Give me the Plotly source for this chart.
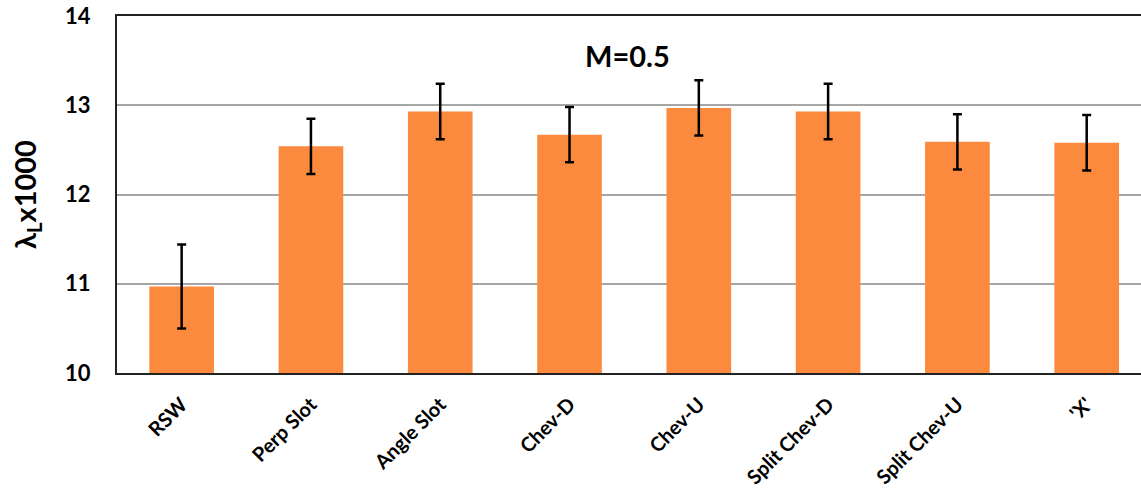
import plotly.graph_objects as go

categories = ["RSW", "Perp Slot", "Angle Slot", "Chev-D", "Chev-U",
              "Split Chev-D", "Split Chev-U", "'X'"]
values = [10.97, 12.54, 12.93, 12.67, 12.97, 12.93, 12.59, 12.58]
errors = [0.47, 0.31, 0.31, 0.31, 0.31, 0.31, 0.31, 0.31]
y_ticks = [10, 11, 12, 13, 14]

FONT = "Lato"

fig = go.Figure()
fig.add_trace(go.Bar(
    x=list(range(len(categories))),
    y=values,
    width=0.5,
    marker=dict(color="#FC8A3E", line=dict(width=0)),
    error_y=dict(type="data", array=errors, visible=True,
                 color="black", thickness=2.5, width=4.5),
    showlegend=False,
))

fig.add_annotation(text="<b>M=0.5</b>", x=0.499, y=0.89,
                   xref="paper", yref="paper", showarrow=False,
                   xanchor="center", yanchor="middle",
                   font=dict(family=FONT, size=29, color="black"))

fig.update_layout(
    width=1141, height=496,
    margin=dict(l=117, r=0, t=16, b=123),
    plot_bgcolor="white", paper_bgcolor="white",
    bargap=0.5,
    xaxis=dict(
        range=[-0.5, 7.42],
        tickmode="array",
        tickvals=list(range(len(categories))),
        ticktext=["<b>%s</b>" % c for c in categories],
        tickangle=-45,
        tickfont=dict(family=FONT, size=20, color="black"),
        ticklabelstandoff=10,
        showline=True, linecolor="#222222", linewidth=2,
        mirror=True, showgrid=False, ticks="",
    ),
    yaxis=dict(
        range=[10, 14],
        tickvals=y_ticks,
        ticktext=["<b>%d</b>" % t for t in y_ticks],
        tickfont=dict(family=FONT, size=22, color="black"),
        ticklabelstandoff=20,
        showline=True, linecolor="#222222", linewidth=2,
        showgrid=True, gridcolor="#A6A6A6", gridwidth=1.5,
        ticks="", ticklen=0,
        title=dict(text="<b>λ<sub>L</sub>x1000</b>",
                   font=dict(family=FONT, size=29, color="black"),
                   standoff=20),
        zeroline=False,
    ),
)

fig.write_html("out.html",
               config={"displayModeBar": False},
               post_script="document.body.style.margin='0';"
                           "document.body.style.overflow='hidden';")
